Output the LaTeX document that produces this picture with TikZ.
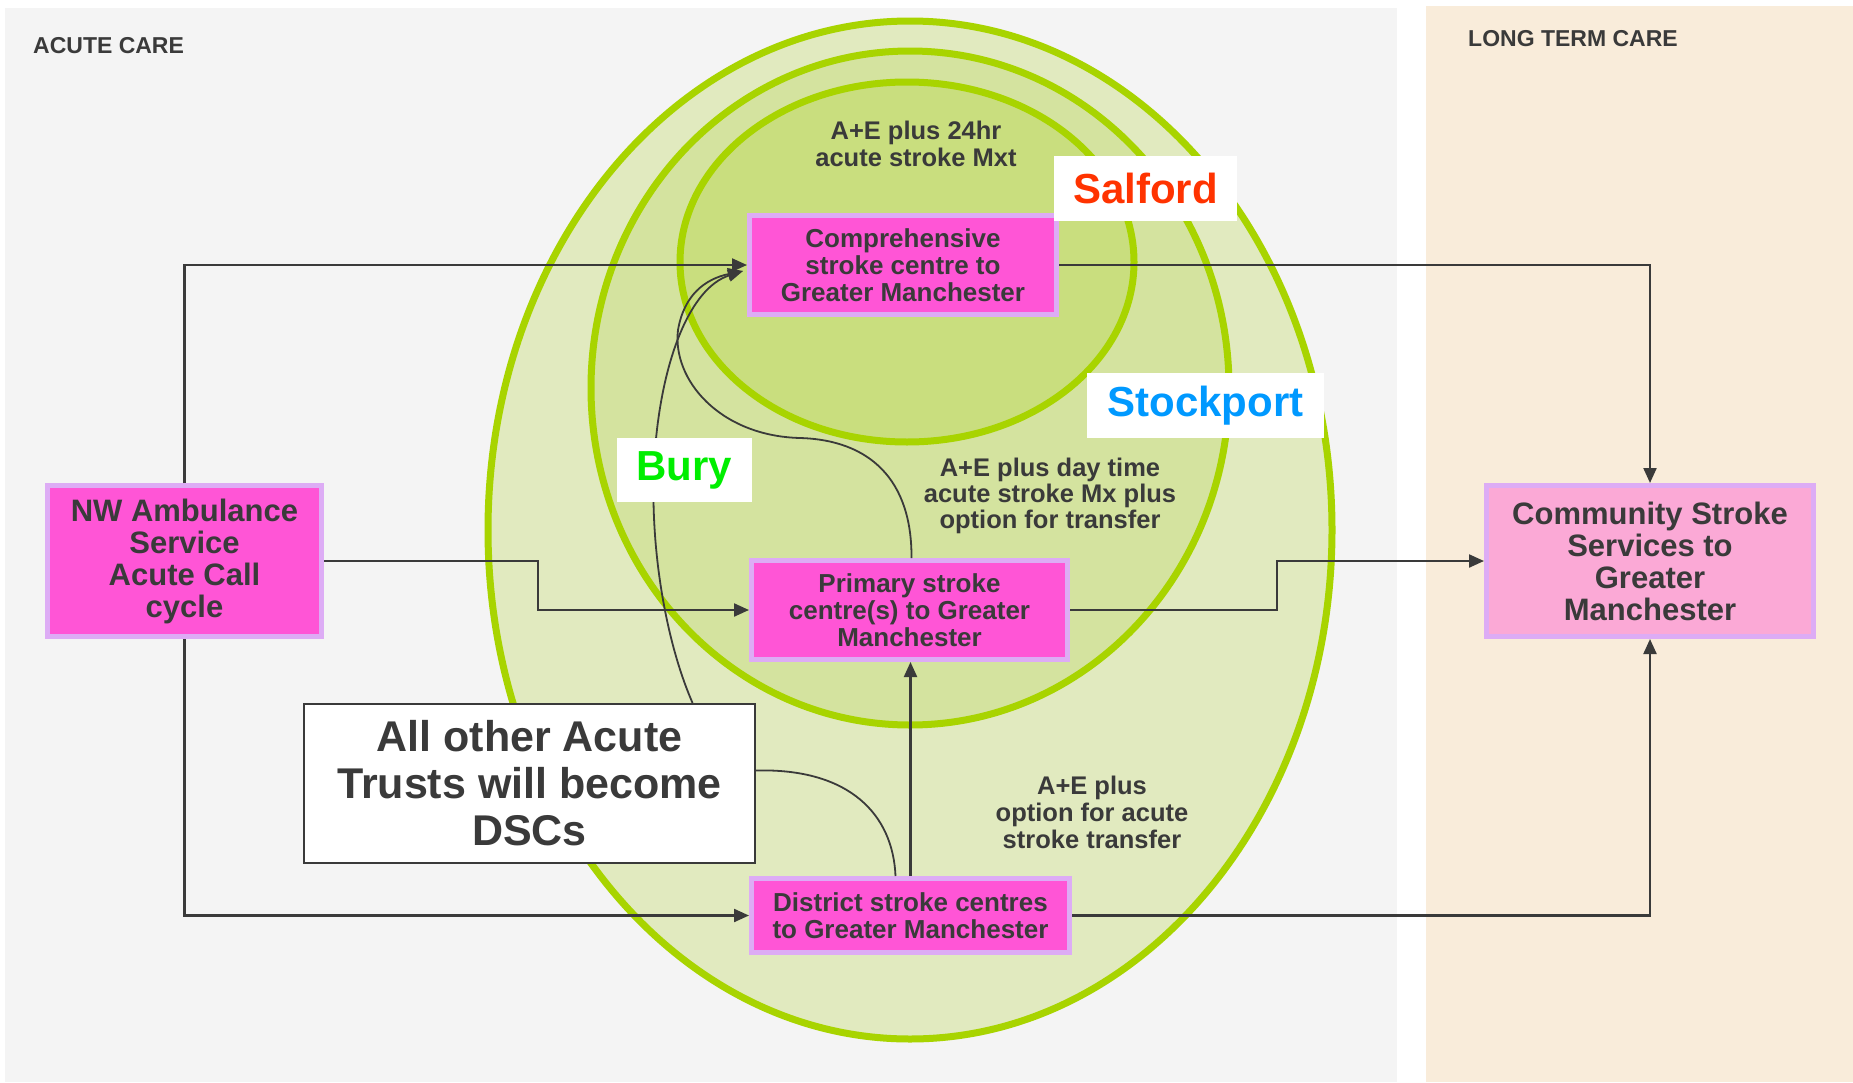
\documentclass[tikz,border=0pt]{standalone}
\usepackage{fontspec}
\setmainfont{Liberation Sans}
\usetikzlibrary{arrows.meta,calc}

\definecolor{acutebg}{HTML}{F4F4F4}
\definecolor{longbg}{HTML}{F9ECDA}
\definecolor{ringline}{HTML}{A8D400}
\definecolor{zoneA}{HTML}{E1EABF}
\definecolor{zoneB}{HTML}{D4E39F}
\definecolor{zoneC}{HTML}{C9DE7E}
\definecolor{boxpink}{HTML}{FF55D6}
\definecolor{boxpale}{HTML}{FBA9D6}
\definecolor{boxrim}{HTML}{DDACF5}
\definecolor{ink}{HTML}{3A3A3A}
\definecolor{salfordred}{HTML}{FF3300}
\definecolor{stockblue}{HTML}{0099FF}
\definecolor{burygreen}{HTML}{00EE00}

\tikzset{
  centre/.style={draw=boxrim, line width=5pt, fill=boxpink, text=ink,
    font=\bfseries\fontsize{26}{27}\selectfont, align=center, inner sep=0pt},
  service/.style={centre, font=\bfseries\fontsize{31}{32}\selectfont},
  zone/.style={draw=ringline, line width=7pt},
  zonetext/.style={text=ink, font=\bfseries\fontsize{25.5}{27}\selectfont,
    align=center, inner sep=0pt},
  paneltitle/.style={text=ink, font=\bfseries\fontsize{23}{25}\selectfont,
    anchor=west, inner sep=0pt},
  tag/.style={fill=white, font=\bfseries\fontsize{42}{44}\selectfont,
    inner sep=0pt},
  flow/.style={draw=ink, line width=2.2pt, -{Triangle[length=15pt,width=13pt]}},
  link/.style={draw=ink, line width=2.2pt},
  transfer/.style={draw=ink, line width=1.8pt},
  transferarrow/.style={transfer, -{Triangle[length=15pt,width=12pt]}},
}

\begin{document}
\begin{tikzpicture}[x=1pt, y=-1pt]
  \useasboundingbox (0,0) rectangle (1853,1082);
  \fill[white] (0,0) rectangle (1853,1082);

  % the two care settings
  \fill[acutebg] (5,8) rectangle (1397,1082);
  \fill[longbg] (1426,6) rectangle (1853,1082);
  \node[paneltitle] (acute) at (33,46) {ACUTE CARE};
  \node[paneltitle] (longterm) at (1468,39) {LONG TERM CARE};

  % nested service zones
  \filldraw[zone, fill=zoneA] (910,530) ellipse [x radius=422, y radius=509];
  \filldraw[zone, fill=zoneB] (910,388) ellipse [x radius=319, y radius=337];
  \filldraw[zone, fill=zoneC] (907,262) ellipse [x radius=227, y radius=180];

  % zone descriptions
  \node[zonetext] (tier1) at (916,144) {A+E plus 24hr\\acute stroke Mxt};
  \node[zonetext, font=\bfseries\fontsize{25.5}{26}\selectfont] (tier2) at (1050,496)
    {A+E plus day time\\acute stroke Mx plus\\option for transfer};
  \node[zonetext] (tier3) at (1092,812) {A+E plus\\option for acute\\stroke transfer};

  % service boxes
  \node[service, minimum width=274pt, minimum height=151pt] (nw) at (184.5,561)
    {NW Ambulance\\Service\\Acute Call\\cycle};
  \node[service, fill=boxpale, minimum width=327pt, minimum height=151pt] (comm) at (1650,561)
    {Community Stroke\\Services to\\Greater\\Manchester};
  \node[centre, minimum width=307pt, minimum height=99pt] (comp) at (903,265)
    {Comprehensive\\stroke centre to\\Greater Manchester};
  \node[centre, minimum width=316pt, minimum height=99pt] (prim) at (909.5,610)
    {Primary stroke\\centre(s) to Greater\\Manchester};
  \node[centre, minimum width=318pt, minimum height=74pt] (dist) at (910.5,915.5)
    {District stroke centres\\to Greater Manchester};

  % note box
  \node[draw=ink, line width=2pt, fill=white, text=ink, align=center, inner sep=0pt,
    font=\bfseries\fontsize{43}{47}\selectfont, minimum width=451pt, minimum height=159pt]
    (others) at (529.5,783.5) {All other Acute\\Trusts will become\\DSCs};

  % straight pathways
  \coordinate (jog) at (1277,585);
  \draw[flow] (nw.north) |- (comp.west);
  \draw[flow] (nw.east) -- ++(214,0) |- (prim.west);
  \draw[flow] (nw.south) |- (dist.west);
  \draw[flow] (comp.east) -| (comm.north);
  \draw[link] (prim.east) -| (jog);
  \draw[flow] (jog) |- (comm.west);
  \draw[flow] (dist.east) -| (comm.south);
  \draw[flow] (dist.north) -- (dist.north |- prim.south);

  % transfer curves
  \coordinate (ctip) at ([shift={(-4,6)}]comp.west);
  \coordinate (ostart) at ($(others.north west)!0.86!(others.north east)$);
  \coordinate (oside) at ([shift={(0,-13)}]others.east);
  \coordinate (dtop) at ([shift={(-15,0)}]dist.north);
  \draw[transferarrow] ([shift={(2,0)}]prim.north) .. controls (912,480) and (870,440) .. (800,438)
    .. controls (720,436) and (672,380) .. (678,330)
    .. controls (684,295) and (705,279) .. (ctip);
  \draw[transferarrow] (ostart) .. controls (665,640) and (648,540) .. (655,450)
    .. controls (662,360) and (690,288) .. (ctip);
  \draw[transfer] (oside) .. controls (850,768) and (893,815) .. (dtop);

  % trust names
  \node[tag, text=salfordred, minimum width=183pt, minimum height=65pt] (salford) at (1145.5,188.5) {Salford};
  \node[tag, text=stockblue, minimum width=237pt, minimum height=65pt] (stockport) at (1205.5,405.5) {Stockport};
  \node[tag, text=burygreen, minimum width=135pt, minimum height=64pt] (bury) at (684.5,470) {Bury};
\end{tikzpicture}
\end{document}
